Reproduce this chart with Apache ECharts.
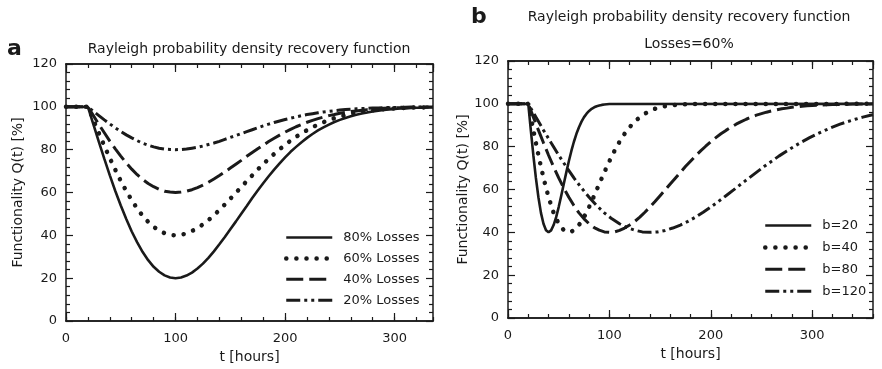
<!DOCTYPE html>
<html><head><meta charset="utf-8">
<script src="https://cdn.jsdelivr.net/npm/echarts@6/dist/echarts.min.js"></script>
<style>html,body{margin:0;padding:0;background:#fff}#c{width:882px;height:369px}</style>
</head><body><div id="c"></div>
<script>
// ---- Panel a: Rayleigh recovery, b=80, different losses ----
const leftT = [0,20,25,30,35,40,45,50,55,60,65,70,75,80,85,90,95,100,105,110,115,120,125,130,135,140,145,150,155,160,165,170,175,180,185,190,195,200,205,210,215,220,225,230,235,240,245,250,255,260,265,270,275,280,285,290,295,300,305,310,315,320,325,330,335];
const loss80 = [100,100,91.8,83.6,75.7,68.0,60.7,53.9,47.6,41.8,36.7,32.2,28.4,25.3,23.0,21.3,20.3,20.0,20.3,21.2,22.6,24.5,26.8,29.5,32.5,35.8,39.2,42.8,46.4,50.1,53.7,57.4,60.9,64.3,67.6,70.7,73.6,76.4,79.0,81.3,83.5,85.5,87.3,89.0,90.4,91.7,92.9,93.9,94.8,95.6,96.3,96.9,97.4,97.8,98.2,98.5,98.8,99.0,99.2,99.3,99.5,99.6,99.6,99.7,99.8];
const loss60 = [100,100,93.8,87.7,81.8,76.0,70.6,65.4,60.7,56.4,52.5,49.1,46.3,44.0,42.2,41.0,40.2,40.0,40.2,40.9,42.0,43.4,45.1,47.1,49.4,51.8,54.4,57.1,59.8,62.6,65.3,68.0,70.7,73.2,75.7,78.0,80.2,82.3,84.2,86.0,87.6,89.1,90.5,91.7,92.8,93.8,94.7,95.4,96.1,96.7,97.2,97.7,98.0,98.4,98.6,98.9,99.1,99.2,99.4,99.5,99.6,99.7,99.7,99.8,99.8];
const loss40 = [100,100,95.9,91.8,87.9,84.0,80.4,77.0,73.8,70.9,68.3,66.1,64.2,62.7,61.5,60.6,60.2,60.0,60.2,60.6,61.3,62.3,63.4,64.8,66.3,67.9,69.6,71.4,73.2,75.0,76.9,78.7,80.4,82.1,83.8,85.3,86.8,88.2,89.5,90.7,91.8,92.8,93.7,94.5,95.2,95.9,96.4,97.0,97.4,97.8,98.1,98.4,98.7,98.9,99.1,99.3,99.4,99.5,99.6,99.7,99.7,99.8,99.8,99.9,99.9];
const loss20 = [100,100,97.9,95.9,93.9,92.0,90.2,88.5,86.9,85.5,84.2,83.0,82.1,81.3,80.7,80.3,80.1,80.0,80.1,80.3,80.7,81.1,81.7,82.4,83.1,83.9,84.8,85.7,86.6,87.5,88.4,89.3,90.2,91.1,91.9,92.7,93.4,94.1,94.7,95.3,95.9,96.4,96.8,97.2,97.6,97.9,98.2,98.5,98.7,98.9,99.1,99.2,99.3,99.5,99.5,99.6,99.7,99.7,99.8,99.8,99.9,99.9,99.9,99.9,99.9];
const leftNames = ['80% Losses','60% Losses','40% Losses','20% Losses'];

// ---- Panel b: Losses=60%, different b ----
const tB20 = [0,20,22.5,25,27.5,30,32.5,35,37.5,40,42.5,45,47.5,50,52.5,55,57.5,60,62.5,65,67.5,70,72.5,75,77.5,80,82.5,85,87.5,90,92.5,95,97.5,100,360];
const qB20 = [100,100,87.7,76.0,65.4,56.4,49.1,44.0,41.0,40.0,40.9,43.4,47.1,51.8,57.1,62.6,68.0,73.2,78.0,82.3,86.0,89.1,91.7,93.8,95.4,96.7,97.7,98.4,98.9,99.2,99.5,99.7,99.8,99.9,100];
const tB40 = [0,20,25,30,35,40,45,50,55,60,65,70,75,80,85,90,95,100,105,110,115,120,125,130,135,140,145,150,155,160,165,170,175,180,360];
const qB40 = [100,100,87.7,76.0,65.4,56.4,49.1,44.0,41.0,40.0,40.9,43.4,47.1,51.8,57.1,62.6,68.0,73.2,78.0,82.3,86.0,89.1,91.7,93.8,95.4,96.7,97.7,98.4,98.9,99.2,99.5,99.7,99.8,99.9,100];
const tB80 = [0,20,25,30,35,40,45,50,55,60,65,70,75,80,85,90,95,100,105,110,115,120,125,130,135,140,145,150,155,160,165,170,175,180,185,190,195,200,205,210,215,220,225,230,235,240,245,250,255,260,265,270,275,280,285,290,295,300,305,310,315,320,325,330,335,340,360];
const qB80 = [100,100,93.8,87.7,81.8,76.0,70.6,65.4,60.7,56.4,52.5,49.1,46.3,44.0,42.2,41.0,40.2,40.0,40.2,40.9,42.0,43.4,45.1,47.1,49.4,51.8,54.4,57.1,59.8,62.6,65.3,68.0,70.7,73.2,75.7,78.0,80.2,82.3,84.2,86.0,87.6,89.1,90.5,91.7,92.8,93.8,94.7,95.4,96.1,96.7,97.2,97.7,98.0,98.4,98.6,98.9,99.1,99.2,99.4,99.5,99.6,99.7,99.7,99.8,99.8,99.9,100];
const tB120 = [0,20,27.5,35,42.5,50,57.5,65,72.5,80,87.5,95,102.5,110,117.5,125,132.5,140,147.5,155,162.5,170,177.5,185,192.5,200,207.5,215,222.5,230,237.5,245,252.5,260,267.5,275,282.5,290,297.5,305,312.5,320,327.5,335,342.5,350,357.5,360];
const qB120 = [100,100,93.8,87.7,81.8,76.0,70.6,65.4,60.7,56.4,52.5,49.1,46.3,44.0,42.2,41.0,40.2,40.0,40.2,40.9,42.0,43.4,45.1,47.1,49.4,51.8,54.4,57.1,59.8,62.6,65.3,68.0,70.7,73.2,75.7,78.0,80.2,82.3,84.2,86.0,87.6,89.1,90.5,91.7,92.8,93.8,94.7,94.9];
const rightNames = ['b=20','b=40','b=80','b=120'];

const yTicks = {min:0, max:120, step:20};
const xMax = [335, 360];
const xMajor = 100, xMinor = 20;

const FONT = 'DejaVu Sans';
const INK = '#1a1a1a';
const pairs = (t, q) => t.map((v, i) => [v, q[i]]);

const styles = [
  {type:'solid', width:2.6, color:INK},
  {type:[0.1, 10], cap:'round', width:4.5, color:INK},
  {type:[17, 6], width:3, color:INK},
  {type:[14, 4, 3, 4, 3, 4], width:3, color:INK}
];

const grids = [
  {left:66, top:64, width:367, height:257},
  {left:508, top:61, width:365, height:257}
];

function xAxes(gi){
  const base = {type:'value', gridIndex:gi, min:0, max:xMax[gi], splitLine:{show:false},
    axisLine:{show:true, onZero:false, lineStyle:{color:INK, width:1.5}}};
  const tick = (len) => ({show:true, inside:true, length:len, lineStyle:{color:INK, width:1.2}});
  return [
    Object.assign({}, base, {position:'bottom', interval:xMajor, axisTick:tick(8),
      axisLabel:{show:true, showMaxLabel:false, margin:11, fontSize:13, fontFamily:FONT, color:INK},
      name:'t [hours]', nameLocation:'middle', nameGap:28,
      nameTextStyle:{fontSize:14, fontFamily:FONT, color:INK}}),
    Object.assign({}, base, {position:'bottom', interval:xMinor, axisTick:tick(4), axisLabel:{show:false}}),
    Object.assign({}, base, {position:'top', interval:xMajor, axisTick:tick(8), axisLabel:{show:false}}),
    Object.assign({}, base, {position:'top', interval:xMinor, axisTick:tick(4), axisLabel:{show:false}})
  ];
}
function yAxes(gi){
  const base = {type:'value', gridIndex:gi, min:yTicks.min, max:yTicks.max, interval:yTicks.step,
    splitLine:{show:false},
    axisLine:{show:true, onZero:false, lineStyle:{color:INK, width:1.5}},
    axisTick:{show:true, inside:true, length:7, lineStyle:{color:INK, width:1.2}},
    minorTick:{show:true, splitNumber:5, length:4, lineStyle:{color:INK, width:1.2}}};
  return [
    Object.assign({}, base, {position:'left',
      axisLabel:{show:true, margin:9, fontSize:13, fontFamily:FONT, color:INK},
      name:'Functionality Q(t) [%]', nameLocation:'middle', nameRotate:90, nameGap: gi === 0 ? 41 : 25,
      nameTextStyle:{fontSize:14, fontFamily:FONT, color:INK}}),
    Object.assign({}, base, {position:'right', axisLabel:{show:false}})
  ];
}

const leftData = [loss80, loss60, loss40, loss20];
const rightT = [tB20, tB40, tB80, tB120];
const rightQ = [qB20, qB40, qB80, qB120];

const series = [];
leftData.forEach((q, i) => series.push({
  type:'line', name:leftNames[i], xAxisIndex:0, yAxisIndex:0, data:pairs(leftT, q),
  showSymbol:false, symbol:'none', lineStyle:styles[i], itemStyle:{color:INK}, z:3
}));
rightQ.forEach((q, i) => series.push({
  type:'line', name:rightNames[i], xAxisIndex:4, yAxisIndex:2, data:pairs(rightT[i], q),
  showSymbol:false, symbol:'none', lineStyle:styles[i], itemStyle:{color:INK}, z:3
}));

const legendText = {fontSize:13, fontFamily:FONT, color:INK, padding:[0,0,0,6]};
const legendItems = (names) => names.map((n, i) => ({name:n, lineStyle:Object.assign({}, styles[i]), itemStyle:{opacity:0}}));

const chart = echarts.init(document.getElementById('c'), null, {renderer:'canvas'});
chart.setOption({
  animation:false,
  backgroundColor:'#fff',
  grid:grids,
  xAxis:[...xAxes(0), ...xAxes(1)],
  yAxis:[...yAxes(0), ...yAxes(1)],
  legend:[
    {orient:'vertical', left:279, top:226, itemWidth:46, itemHeight:14, itemGap:7.9,
     data:legendItems(leftNames), itemStyle:{opacity:0}, textStyle:legendText, selectedMode:false},
    {orient:'vertical', left:758, top:214, itemWidth:46, itemHeight:14, itemGap:8.9,
     data:legendItems(rightNames), itemStyle:{opacity:0}, textStyle:legendText, selectedMode:false}
  ],
  series:series,
  graphic:[
    {type:'text', x:7, y:49, style:{text:'a', fontSize:22, fontWeight:'bold', fontFamily:FONT, fill:INK, align:'left', verticalAlign:'middle'}},
    {type:'text', x:471, y:17, style:{text:'b', fontSize:22, fontWeight:'bold', fontFamily:FONT, fill:INK, align:'left', verticalAlign:'middle'}},
    {type:'text', x:249, y:49, style:{text:'Rayleigh probability density recovery function', fontSize:14, fontFamily:FONT, fill:INK, align:'center', verticalAlign:'middle'}},
    {type:'text', x:689, y:17, style:{text:'Rayleigh probability density recovery function', fontSize:14, fontFamily:FONT, fill:INK, align:'center', verticalAlign:'middle'}},
    {type:'text', x:689, y:44, style:{text:'Losses=60%', fontSize:14, fontFamily:FONT, fill:INK, align:'center', verticalAlign:'middle'}}
  ]
});
</script></body></html>
